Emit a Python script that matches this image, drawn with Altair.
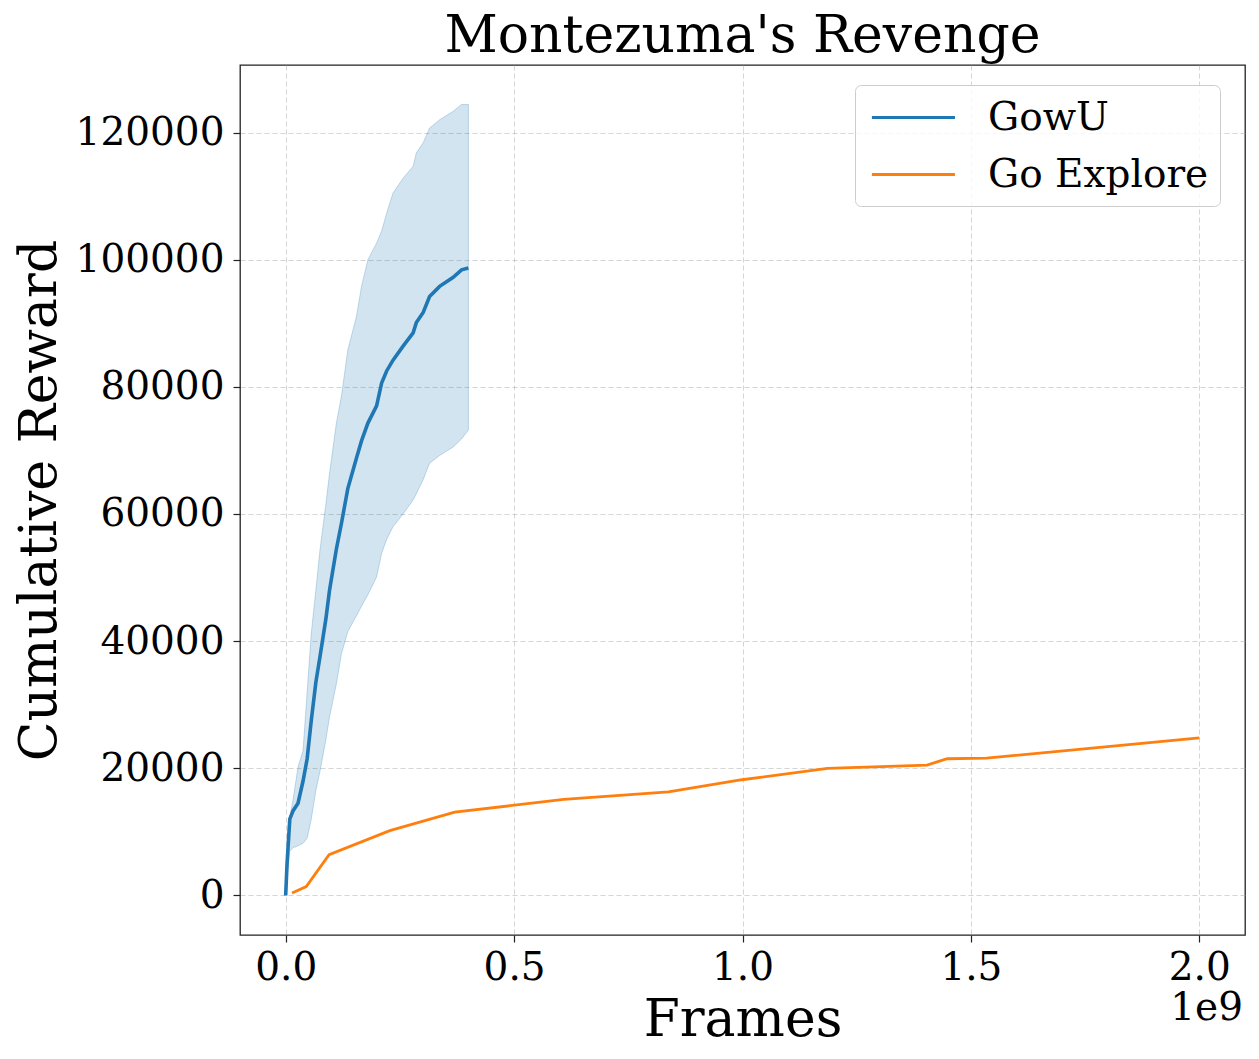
import altair as alt
import pandas as pd

# GowU (mean and band), frames in millions
gowu_frames_m = [0, 3, 9, 16, 27, 38, 47, 56, 66, 75, 88, 96, 111, 122, 136, 155, 166, 180,
                 199, 210, 221, 235, 257, 279, 286, 301, 315, 337, 366, 385, 400]
gowu_mean = [0, 5000, 12000, 13300, 14500, 18000, 21500, 27500, 33500, 37500, 43500, 48000,
             54500, 58500, 64000, 68800, 71500, 74300, 77000, 80600, 82500, 84200, 86400,
             88500, 90100, 91700, 94200, 95800, 97200, 98400, 98700]
gowu_upper = [0, 6000, 12300, 15000, 20200, 22800, 32000, 41200, 48000, 54300, 61600, 66400,
              74300, 78500, 85800, 91100, 95800, 100000, 102600, 104500, 107300, 110500,
              112800, 114700, 116800, 118400, 120700, 122000, 123300, 124400, 124400]
gowu_lower = [0, 3000, 7000, 7500, 7800, 8200, 9000, 12000, 16500, 19500, 24500, 28100,
              33300, 38000, 41500, 44000, 45500, 47300, 50100, 53800, 56000, 58000, 60000,
              62200, 63200, 65400, 68000, 69200, 70500, 71800, 73200]

# Go Explore, frames in millions
goexp_frames_m = [14, 45, 95, 228, 370, 609, 838, 999, 1186, 1404, 1448, 1534, 2000]
goexp_reward = [400, 1400, 6400, 10200, 13100, 15100, 16300, 18200, 20000, 20500, 21500,
                21600, 24800]

series_names = ["GowU", "Go Explore"]
series_colors = ["#1f77b4", "#ff7f0e"]
x_ticks = [0, 5e8, 1e9, 1.5e9, 2e9]
y_ticks = [0, 20000, 40000, 60000, 80000, 100000, 120000]

gowu = pd.DataFrame({
    "frames": [v * 1e6 for v in gowu_frames_m],
    "reward": gowu_mean,
    "lower": gowu_lower,
    "upper": gowu_upper,
    "series": "GowU",
})
goexp = pd.DataFrame({
    "frames": [v * 1e6 for v in goexp_frames_m],
    "reward": goexp_reward,
    "series": "Go Explore",
})

FONT = "DejaVu Serif"

xscale = alt.Scale(domain=[-0.1e9, 2.1e9], nice=False, zero=False)
yscale = alt.Scale(domain=[-6220, 130620], nice=False, zero=False)

xaxis = alt.Axis(
    values=x_ticks,
    labelExpr="format(datum.value / 1e9, '.1f')",
    labelPadding=6,
    title="Frames",
    titleX=502.5, titleY=100, titleBaseline="alphabetic", titleAlign="center",
)
yaxis = alt.Axis(
    values=y_ticks,
    format="d",
    labelPadding=9,
    title="Cumulative Reward",
    titleX=-185, titleY=435, titleAngle=270, titleBaseline="alphabetic", titleAlign="center",
)

color = alt.Color(
    "series:N",
    scale=alt.Scale(domain=series_names, range=series_colors),
    legend=alt.Legend(
        title=None,
        orient="none",
        legendX=615,
        legendY=20,
        direction="vertical",
        symbolType="M-0.8,0H3.46",
        symbolSize=1521,
        symbolStrokeWidth=3.2,
        labelOffset=79,
        rowPadding=15,
        padding=11,
        fillColor="rgba(255,255,255,0.8)",
        strokeColor="#cccccc",
        cornerRadius=6,
        labelFont=FONT,
        labelFontSize=39,
        labelColor="black",
        labelLimit=0,
    ),
)

band = alt.Chart(gowu).mark_area(
    color="#1f77b4", fillOpacity=0.2, stroke="#1f77b4", strokeOpacity=0.25, strokeWidth=1
).encode(
    x=alt.X("frames:Q", scale=xscale, axis=xaxis),
    y=alt.Y("lower:Q", scale=yscale, axis=yaxis),
    y2="upper:Q",
)

line_gowu = alt.Chart(gowu).mark_line(strokeWidth=3.6).encode(
    x=alt.X("frames:Q", scale=xscale),
    y=alt.Y("reward:Q", scale=yscale),
    color=color,
)

line_goexp = alt.Chart(goexp).mark_line(strokeWidth=2.8).encode(
    x=alt.X("frames:Q", scale=xscale),
    y=alt.Y("reward:Q", scale=yscale),
    color=color,
)

offset_text = alt.Chart(pd.DataFrame({"t": ["1e9"]})).mark_text(
    align="right", baseline="alphabetic", font=FONT, fontSize=39, color="black"
).encode(
    text="t:N",
    x=alt.value(1003),
    y=alt.value(955),
)

chart = alt.layer(band, line_gowu, line_goexp, offset_text).properties(
    width=1005,
    height=870,
    background="white",
    title=alt.TitleParams(
        "Montezuma's Revenge", font=FONT, fontSize=52, fontWeight="normal",
        color="black", anchor="middle", offset=2, frame="group",
    ),
    autosize=alt.AutoSizeParams(type="none"),
    padding={"left": 232, "top": 57, "right": 5, "bottom": 112},
).configure_view(
    stroke="#222222", strokeWidth=1.3
).configure_axis(
    domain=False,
    grid=True,
    gridColor="#b0b0b0",
    gridOpacity=0.55,
    gridDash=[5, 3],
    gridWidth=1,
    ticks=True,
    tickColor="#222222",
    tickSize=7,
    tickWidth=1.2,
    labelFont=FONT,
    labelFontSize=39,
    labelColor="black",
    titleFont=FONT,
    titleFontSize=52,
    titleFontWeight="normal",
    titleColor="black",
)

chart.save("out.html", embed_options={"renderer": "svg", "actions": False})
